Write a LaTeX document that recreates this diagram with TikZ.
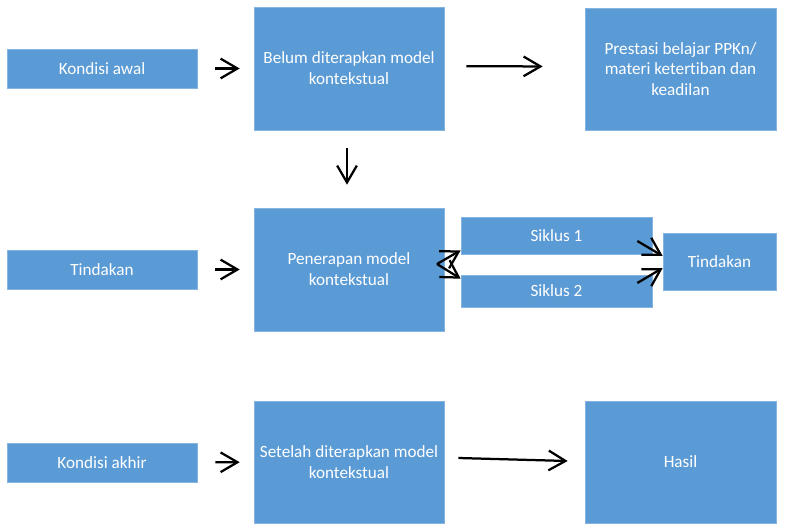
\documentclass[tikz,border=0pt]{standalone}
\usepackage{fontspec}
\setmainfont[Ligatures=NoCommon]{Carlito}
\usetikzlibrary{arrows.meta}
\definecolor{boxblue}{RGB}{91,155,213}
\begin{document}
\begin{tikzpicture}[x=0.025cm,y=-0.025cm,
        box/.style={draw=boxblue!75!white,fill=boxblue,text=white,inner sep=0pt,align=center,font=\fontsize{12.2}{14.8}\selectfont},
        arr/.style={line width=1.6pt,-{Straight Barb[length=12pt,width=14pt]}}]
            \useasboundingbox (0,0) rectangle (789,524);
            % boxes
            \node[box,minimum width=4.75cm,minimum height=0.975cm] (awal) at (102,68.5) {Kondisi awal};
            \node[box,minimum width=4.75cm,minimum height=3.075cm] (belum) at (349,68.5) {Belum diterapkan model\\kontekstual};
            \node[box,minimum width=4.775cm,minimum height=3.05cm] (prestasi) at (680.5,69) {Prestasi belajar PPKn/\\materi ketertiban dan\\keadilan};
            \node[box,minimum width=4.75cm,minimum height=0.975cm] (tindakan) at (102,269.5) {Tindakan};
            \node[box,minimum width=4.75cm,minimum height=3.075cm] (penerapan) at (349,269.5) {Penerapan model\\kontekstual};
            \node[box,minimum width=4.775cm,minimum height=0.925cm] (siklus1) at (556.5,235.5) {Siklus 1};
            \node[box,minimum width=4.775cm,minimum height=0.8cm] (siklus2) at (556.5,291) {Siklus 2};
            \node[box,minimum width=2.825cm,minimum height=1.425cm] (hasiltindakan) at (719.5,261.5) {Tindakan};
            \node[box,minimum width=4.75cm,minimum height=0.975cm] (akhir) at (102,462.5) {Kondisi akhir};
            \node[box,minimum width=4.75cm,minimum height=3.05cm] (setelah) at (349,462) {Setelah diterapkan model\\kontekstual};
            \node[box,minimum width=4.775cm,minimum height=3.05cm] (hasil) at (680.5,462) {Hasil};
            \coordinate (cabang) at (437,264);
            % arrows
            \draw[arr,shorten <=0.45cm,shorten >=0.35cm] (awal) -- (belum);
            \draw[arr,shorten <=0.55cm,shorten >=1.05cm] ([yshift=0.06cm]belum.east) -- ([yshift=0.06cm]prestasi.west);
            \draw[arr,shorten <=0.45cm,shorten >=0.575cm] ([xshift=-0.05cm]belum.south) -- ([xshift=-0.05cm]penerapan.north);
            \draw[arr,shorten <=0.45cm,shorten >=0.35cm] (tindakan) -- (penerapan);
            \draw[arr] (cabang) -- ([shift={(0,-4)}]siklus1.south west);
            \draw[arr] (cabang) -- ([shift={(0,4)}]siklus2.north west);
            \draw[arr] ([shift={(-15,5.5)}]siklus1.east) -- ([shift={(0,-5.5)}]hasiltindakan.west);
            \draw[arr] ([shift={(-15,-8)}]siklus2.east) -- ([shift={(0,6.5)}]hasiltindakan.west);
            \draw[arr,shorten <=0.45cm,shorten >=0.35cm] (akhir) -- (setelah);
            \draw[arr] ([shift={(14,-4)}]setelah.east) -- ([shift={(-17,-1)}]hasil.west);
\end{tikzpicture}
\end{document}
